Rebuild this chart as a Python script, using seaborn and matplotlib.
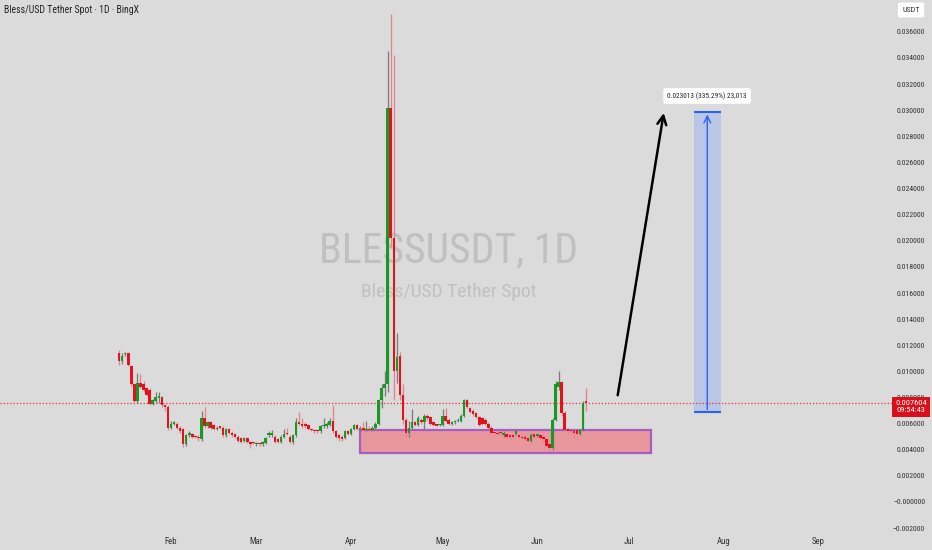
import matplotlib
matplotlib.use("Agg")
import matplotlib.pyplot as plt
import matplotlib.dates as mdates
import matplotlib.transforms as mtransforms
from matplotlib import font_manager
from matplotlib.patches import Rectangle
import numpy as np
import pandas as pd
import seaborn as sns

# ---------------- data ----------------
start_date = "2025-01-15"
opens = [0.0114, 0.0108, 0.0113, 0.0114, 0.0104, 0.0090, 0.0077, 0.0091, 0.0090, 0.0087,
         0.0086, 0.0075, 0.0077, 0.00798, 0.0080, 0.0074, 0.0073, 0.0057, 0.0060, 0.0060,
         0.0057, 0.0056, 0.0044, 0.0051, 0.0052, 0.0050, 0.0050, 0.0048, 0.0064, 0.0058,
         0.0061, 0.0059, 0.0056, 0.00572, 0.0057, 0.0051, 0.0056, 0.0053, 0.0052, 0.0050,
         0.0049, 0.0047, 0.0049, 0.0046, 0.0045, 0.0044, 0.0045, 0.0044, 0.0045, 0.0051,
         0.0051, 0.0050, 0.0048, 0.0046, 0.0050, 0.0053, 0.0050, 0.0046, 0.0051, 0.0061,
         0.0060, 0.0060, 0.0059, 0.0056, 0.0055, 0.0055, 0.0054, 0.0058, 0.0058, 0.0059,
         0.0062, 0.0054, 0.0051, 0.0050, 0.0049, 0.0054, 0.0052, 0.0056, 0.0059, 0.0056,
         0.0057, 0.0055, 0.0056, 0.0055, 0.0057, 0.0060, 0.0078, 0.0087, 0.0090, 0.0302,
         0.0202, 0.0100, 0.0112, 0.0082, 0.0063, 0.0053, 0.0057, 0.0061, 0.0059, 0.0063,
         0.0061, 0.0066, 0.0065, 0.0061, 0.0059, 0.00588, 0.0059, 0.0066, 0.0063, 0.0060,
         0.0061, 0.0062, 0.0062, 0.0066, 0.0078, 0.0072, 0.0070, 0.0068, 0.0065, 0.0064,
         0.0063, 0.0060, 0.0057, 0.0053, 0.0053, 0.00528, 0.0051, 0.0052, 0.0051, 0.0051,
         0.0052, 0.0051, 0.0050, 0.0050, 0.0049, 0.0047, 0.0052, 0.00508, 0.0051, 0.0050,
         0.0048, 0.0044, 0.0041, 0.0063, 0.0088, 0.0092, 0.0068, 0.0056, 0.0055, 0.0054,
         0.0055, 0.0052, 0.0055, 0.0077]
highs = [0.0116, 0.0114, 0.0115, 0.0115, 0.0105, 0.0091, 0.0099, 0.0098, 0.0093, 0.0088,
         0.0087, 0.0079, 0.0084, 0.0084, 0.0081, 0.0075, 0.0074, 0.0062, 0.0062, 0.0061,
         0.0058, 0.0057, 0.0052, 0.0054, 0.0053, 0.0051, 0.0051, 0.0070, 0.0073, 0.0062,
         0.0062, 0.0060, 0.0058, 0.0058, 0.0058, 0.0057, 0.0057, 0.0054, 0.0053, 0.0051,
         0.0050, 0.0050, 0.0050, 0.0047, 0.0046, 0.0046, 0.0046, 0.0047, 0.0050, 0.0054,
         0.0055, 0.0051, 0.0049, 0.0051, 0.0056, 0.0057, 0.0051, 0.0052, 0.0064, 0.0069,
         0.0064, 0.0061, 0.0060, 0.0057, 0.0056, 0.0056, 0.0059, 0.0064, 0.0061, 0.0064,
         0.0074, 0.0055, 0.0052, 0.0051, 0.0055, 0.0055, 0.0057, 0.0060, 0.0060, 0.0058,
         0.0061, 0.0062, 0.0058, 0.0058, 0.0061, 0.0079, 0.0090, 0.0100, 0.0345, 0.0374,
         0.0342, 0.0129, 0.0115, 0.0090, 0.0064, 0.0062, 0.0071, 0.0062, 0.0066, 0.0064,
         0.0067, 0.0067, 0.0066, 0.0062, 0.0060, 0.0060, 0.0071, 0.0072, 0.0064, 0.0062,
         0.0063, 0.0064, 0.0067, 0.0079, 0.0079, 0.0073, 0.0071, 0.0069, 0.0066, 0.0065,
         0.0064, 0.0061, 0.0058, 0.0054, 0.0054, 0.0054, 0.0054, 0.0053, 0.0052, 0.0052,
         0.0056, 0.0052, 0.0051, 0.0051, 0.0050, 0.0053, 0.0053, 0.0052, 0.0052, 0.0051,
         0.0049, 0.0045, 0.0064, 0.0093, 0.0100, 0.0093, 0.0070, 0.0057, 0.0056, 0.0055,
         0.0056, 0.0056, 0.0077, 0.0087]
lows = [0.0105, 0.0106, 0.0112, 0.0104, 0.0089, 0.0075, 0.0076, 0.0087, 0.0084, 0.0081,
        0.0074, 0.0074, 0.0076, 0.0076, 0.0073, 0.0070, 0.0055, 0.0056, 0.0059, 0.0056,
        0.0053, 0.0042, 0.0043, 0.0050, 0.0049, 0.0049, 0.0047, 0.0047, 0.0057, 0.0057,
        0.0056, 0.0055, 0.0055, 0.0056, 0.0050, 0.0050, 0.0052, 0.0050, 0.0049, 0.0046,
        0.0045, 0.0046, 0.0045, 0.0041, 0.0044, 0.0043, 0.0043, 0.0043, 0.0044, 0.0050,
        0.0050, 0.0045, 0.0045, 0.0045, 0.0049, 0.0051, 0.0045, 0.0044, 0.0050, 0.0059,
        0.0057, 0.0057, 0.0055, 0.0054, 0.0053, 0.0053, 0.0053, 0.0057, 0.0057, 0.0058,
        0.0053, 0.0049, 0.0047, 0.0047, 0.0048, 0.0051, 0.0051, 0.0055, 0.0055, 0.0054,
        0.0054, 0.0054, 0.0053, 0.0054, 0.0056, 0.0059, 0.0072, 0.0081, 0.0084, 0.0195,
        0.0078, 0.0091, 0.0078, 0.0060, 0.0050, 0.0050, 0.0056, 0.0058, 0.0058, 0.0060,
        0.0056, 0.0063, 0.0059, 0.0058, 0.0058, 0.0058, 0.0058, 0.0061, 0.0059, 0.0059,
        0.0060, 0.0061, 0.0061, 0.0065, 0.0072, 0.0068, 0.0066, 0.0064, 0.0058, 0.0059,
        0.0059, 0.0056, 0.0052, 0.0052, 0.0051, 0.0052, 0.0050, 0.0049, 0.0048, 0.0049,
        0.0051, 0.0049, 0.0048, 0.0047, 0.0046, 0.0046, 0.0049, 0.0050, 0.0048, 0.0046,
        0.0042, 0.0040, 0.0040, 0.0062, 0.0086, 0.0066, 0.0054, 0.0053, 0.0052, 0.0049,
        0.0051, 0.0051, 0.0054, 0.0070]
closes = [0.0108, 0.0112, 0.0114, 0.0105, 0.0090, 0.0077, 0.0091, 0.0088, 0.0086, 0.0082,
          0.0075, 0.0078, 0.0080, 0.00802, 0.0074, 0.0073, 0.0057, 0.0060, 0.0061, 0.0057,
          0.0054, 0.0044, 0.0051, 0.0053, 0.0050, 0.00495, 0.0049, 0.0064, 0.0058, 0.0061,
          0.0057, 0.0056, 0.0057, 0.00568, 0.0051, 0.0056, 0.0053, 0.0051, 0.0050, 0.0047,
          0.0046, 0.0049, 0.0046, 0.0044, 0.00448, 0.0045, 0.0044, 0.0046, 0.0049, 0.0053,
          0.0053, 0.0046, 0.0046, 0.0050, 0.0052, 0.0052, 0.0046, 0.0051, 0.0061, 0.0060,
          0.0058, 0.0058, 0.0056, 0.0055, 0.0054, 0.0054, 0.0058, 0.0059, 0.0060, 0.0062,
          0.0054, 0.0050, 0.0049, 0.0048, 0.0054, 0.0052, 0.0056, 0.0059, 0.0056, 0.0057,
          0.0055, 0.0056, 0.0055, 0.0057, 0.0060, 0.0078, 0.0087, 0.0090, 0.0302, 0.0202,
          0.0100, 0.0111, 0.0082, 0.0063, 0.0053, 0.0057, 0.0061, 0.0059, 0.0064, 0.0061,
          0.0066, 0.0064, 0.0060, 0.0059, 0.00585, 0.00592, 0.0066, 0.0062, 0.0060, 0.0061,
          0.0062, 0.0063, 0.0066, 0.0078, 0.0073, 0.0069, 0.0067, 0.0065, 0.0059, 0.0060,
          0.0060, 0.0057, 0.0053, 0.00528, 0.0052, 0.00525, 0.0053, 0.0050, 0.0050, 0.0050,
          0.0054, 0.0050, 0.0049, 0.0048, 0.0047, 0.0051, 0.0050, 0.00512, 0.0049, 0.0048,
          0.0043, 0.0041, 0.0063, 0.0090, 0.0092, 0.0068, 0.0055, 0.0054, 0.0054, 0.0053,
          0.0052, 0.0055, 0.0076, 0.007604]

month_ticks = ["2025-02-01", "2025-03-01", "2025-04-01", "2025-05-01",
               "2025-06-01", "2025-07-01", "2025-08-01", "2025-09-01"]
month_labels = ["Feb", "Mar", "Apr", "May", "Jun", "Jul", "Aug", "Sep"]
price_ticks = [0.036, 0.034, 0.032, 0.030, 0.028, 0.026, 0.024, 0.022, 0.020, 0.018,
               0.016, 0.014, 0.012, 0.010, 0.008, 0.006, 0.004, 0.002, 0.0, -0.002]
price_labels = ["0.036000", "0.034000", "0.032000", "0.030000", "0.028000", "0.026000",
                "0.024000", "0.022000", "0.020000", "0.018000", "0.016000", "0.014000",
                "0.012000", "0.010000", "0.008000", "0.006000", "0.004000", "0.002000",
                "\u22120.000000", "\u22120.002000"]
last_price = 0.007604
last_price_label = "0.007604\n09:54:43"

zone_start, zone_end = "2025-04-03 22:00", "2025-07-08 08:00"
zone_low, zone_high = 0.00375, 0.0055
target_start, target_end = "2025-07-22 08:00", "2025-07-31 03:00"
target_mid = "2025-07-26 17:00"
target_low, target_high = 0.006864, 0.029877
target_label = "0.023013 (335.29%) 23,013"
target_label_pos = ("2025-07-26 15:00", 0.03109)
arrow_tail = ("2025-06-27 05:00", 0.00796)
arrow_tip = ("2025-07-12 14:00", 0.0300)

x_min, x_max = "2024-12-06 23:30", "2025-10-08 08:00"
y_min, y_max = -0.00368, 0.03844

# ---------------- fonts ----------------
def find_narrow():
    fl = font_manager.fontManager.ttflist
    for want in ["Liberation Sans Narrow", "Roboto Condensed", "Open Sans Condensed"]:
        for f in fl:
            if f.name == want and f.weight in (400, "normal", "regular") and f.style == "normal":
                return f.fname
    for f in fl:
        if f.stretch in ("condensed", "semi-condensed", "extra-condensed") and f.style == "normal" \
                and f.weight in (400, "normal", "regular"):
            return f.fname
    for f in fl:
        if ("Narrow" in f.name or "Condensed" in f.name) and f.style == "normal":
            return f.fname
    return None

narrow_path = find_narrow()

def fp(size):
    if narrow_path:
        return font_manager.FontProperties(fname=narrow_path, size=size)
    return font_manager.FontProperties(family="Liberation Sans", size=size, stretch="condensed")

# ---------------- style ----------------
sns.set_theme(style="white")
BG = "#dbdbdb"
plt.rcParams["font.family"] = ["Liberation Sans", "DejaVu Sans"]

fig = plt.figure(figsize=(9.32, 5.5), dpi=100, facecolor=BG)
ax = fig.add_axes([0, 0, 1, 1])
ax.set_facecolor(BG)
for s in ax.spines.values():
    s.set_visible(False)

df = pd.DataFrame({
    "date": pd.date_range(start_date, periods=len(opens), freq="D"),
    "open": opens, "high": highs, "low": lows, "close": closes,
})
df["x"] = mdates.date2num(df["date"])
up = df["close"] >= df["open"]
GREEN, RED = "#169a22", "#e3121d"
WICK_UP, WICK_DN = "#7a7a7a", "#e8808a"

ax.vlines(df.loc[up, "x"], df.loc[up, "low"], df.loc[up, "high"], color=WICK_UP, lw=0.9, zorder=2)
ax.vlines(df.loc[~up, "x"], df.loc[~up, "low"], df.loc[~up, "high"], color=WICK_DN, lw=0.9, zorder=2)
body_lo = np.minimum(df["open"], df["close"])
body_h = np.maximum(np.abs(df["close"] - df["open"]), 0.0001)
ax.bar(df.loc[up, "x"], body_h[up], bottom=body_lo[up], width=0.82, color=GREEN,
       edgecolor="none", zorder=3)
ax.bar(df.loc[~up, "x"], body_h[~up], bottom=body_lo[~up], width=0.82, color=RED,
       edgecolor="none", zorder=3)

def dn(s):
    return mdates.date2num(pd.Timestamp(s))

ax.add_patch(Rectangle((dn(zone_start), zone_low), dn(zone_end) - dn(zone_start),
                       zone_high - zone_low, facecolor="#e8989d", edgecolor="#a85cc4",
                       lw=1.6, zorder=1.5))

ax.add_patch(Rectangle((dn(target_start), target_low), dn(target_end) - dn(target_start),
                       target_high - target_low, facecolor="#bac6e6", edgecolor="none",
                       zorder=1.5))
ax.hlines([target_low, target_high], dn(target_start), dn(target_end), color="#2c62f5",
          lw=1.5, zorder=2)
ax.annotate("", xy=(dn(target_mid), target_high), xytext=(dn(target_mid), target_low),
            arrowprops=dict(arrowstyle="->", color="#2c62f5", lw=1.0, mutation_scale=12),
            zorder=2)
ax.text(dn(target_label_pos[0]), target_label_pos[1], target_label, fontproperties=fp(5.3),
        ha="center", va="center", color="#222222", zorder=5,
        bbox=dict(boxstyle="round,pad=0.55,rounding_size=0.3", fc="white", ec="none"))

ax.annotate("", xy=(dn(arrow_tip[0]), arrow_tip[1]), xytext=(dn(arrow_tail[0]), arrow_tail[1]),
            arrowprops=dict(arrowstyle="->", color="black", lw=1.8, mutation_scale=16),
            zorder=4)

ax.axhline(last_price, xmin=0, xmax=893 / 932, color="#e4303c", lw=0.9,
           ls=(0, (1.0, 1.6)), zorder=1.8)

ax.set_xlim(dn(x_min), dn(x_max))
ax.set_ylim(y_min, y_max)
ax.set_xticks([dn(t) for t in month_ticks])
ax.set_xticklabels(month_labels)
ax.tick_params(axis="x", direction="in", length=0, pad=-9, colors="#333333")
for lab in ax.get_xticklabels():
    lab.set_fontproperties(fp(6.3))
ax.yaxis.tick_right()
ax.set_yticks(price_ticks)
ax.set_yticklabels(price_labels)
ax.tick_params(axis="y", direction="in", length=0, pad=-5, colors="#333333")
for lab in ax.get_yticklabels():
    lab.set_horizontalalignment("right")
    lab.set_fontproperties(fp(5.6))
ax.grid(False)

trans = mtransforms.blended_transform_factory(ax.transAxes, ax.transData)
ax.text(0.9775, last_price - 0.00033, last_price_label, transform=trans, fontproperties=fp(6.0),
        color="white", ha="center", va="center", linespacing=1.2, zorder=10,
        bbox=dict(boxstyle="square,pad=0.4", fc="#d9101a", ec="none"))

ax.text(0.9775, 1 - 10 / 550, "USDT", transform=ax.transAxes, fontproperties=fp(5.8),
        color="#333333", ha="center", va="center", zorder=10,
        bbox=dict(boxstyle="round,pad=0.55,rounding_size=0.2", fc="white", ec="none"))

ax.text(4 / 932, 1 - 10 / 550, "Bless/USD Tether Spot \u00b7 1D \u00b7 BingX",
        transform=ax.transAxes, fontproperties=fp(7.0), color="#222222", ha="left", va="center")
ax.text(449 / 932, 1 - 251 / 550, "BLESSUSDT, 1D", transform=ax.transAxes, fontproperties=fp(30),
        color="#c0c0c0", ha="center", va="center", zorder=0.5)
ax.text(449 / 932, 1 - 292 / 550, "Bless/USD Tether Spot", transform=ax.transAxes,
        fontproperties=fp(14), color="#c0c0c0", ha="center", va="center", zorder=0.5)

fig.savefig("out.png", dpi=100, facecolor=BG)
